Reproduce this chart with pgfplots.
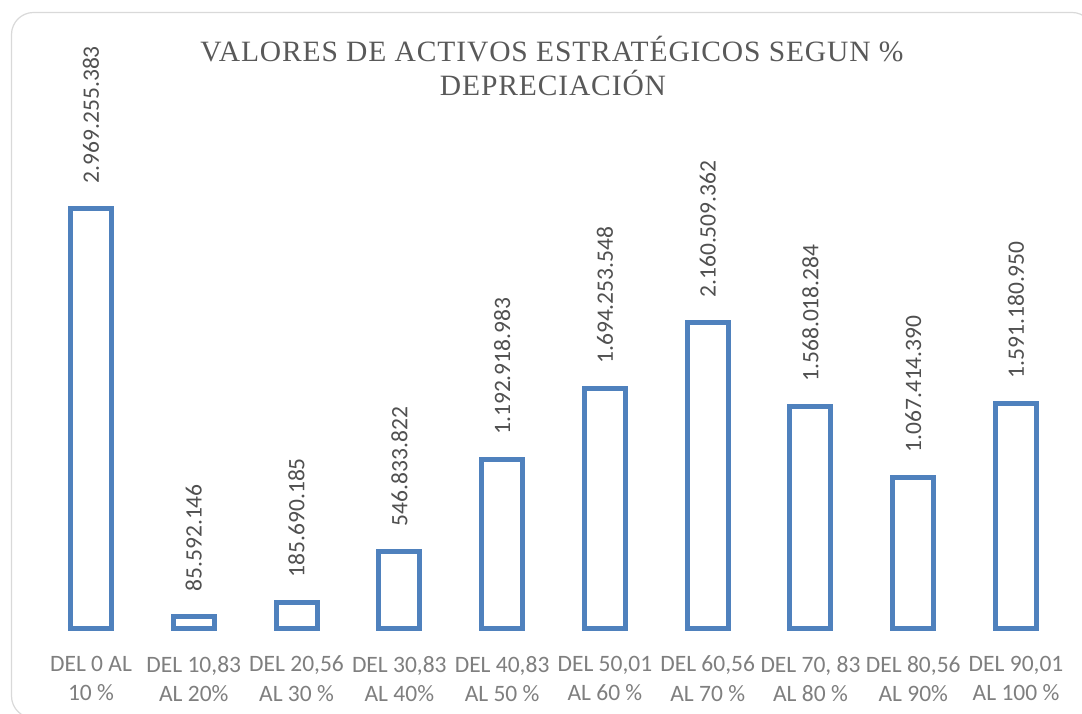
\documentclass[border=0pt]{standalone}
\usepackage{pgfplots}
\pgfplotsset{compat=1.18}
\usepackage{pgfplotstable}
\usepackage{fontspec}
\setmainfont{Carlito}
\newfontfamily\titlefont[LetterSpace=3]{Liberation Serif}
\definecolor{barblue}{HTML}{4F81BD}
\definecolor{titlegray}{HTML}{595959}
\definecolor{valgray}{HTML}{505050}
\definecolor{tickgray}{HTML}{7F7F7F}
\definecolor{framegray}{HTML}{D9D9D9}

\pgfplotstableread{
x y label
0 2969255383 2.969.255.383
1 85592146 85.592.146
2 185690185 185.690.185
3 546833822 546.833.822
4 1192918983 1.192.918.983
5 1694253548 1.694.253.548
6 2160509362 2.160.509.362
7 1568018284 1.568.018.284
8 1067414390 1.067.414.390
9 1591180950 1.591.180.950
}\datatable

\begin{document}
\begin{tikzpicture}[x=1pt,y=1pt]
\useasboundingbox (0,0) rectangle (1082,713);
\begin{scope}
\clip (0,0) rectangle (1082,713);
\draw[framegray, line width=1.2pt, rounded corners=22pt, fill=white] (11.5,700.5) rectangle (1094,-5);
\end{scope}
\node[font=\titlefont\fontsize{29.5}{34}\selectfont, text=titlegray, anchor=base] at (552,651) {VALORES DE ACTIVOS ESTRATÉGICOS SEGUN \%};
\node[font=\titlefont\fontsize{29.5}{34}\selectfont, text=titlegray, anchor=base] at (553,617) {DEPRECIACIÓN};
\begin{axis}[
  at={(39.6pt,84.5pt)}, anchor=south west,
  scale only axis, width=1027.8pt, height=588.5pt,
  xmin=-0.5, xmax=9.5, ymin=0, ymax=4.1561e9,
  hide y axis,
  axis x line*=bottom,
  x axis line style={draw=none},
  xtick style={draw=none},
  xtick=data,
  xticklabels={{DEL 0 AL\\10 \%},{DEL 10,83\\AL 20\%},{DEL 20,56\\AL 30 \%},{DEL 30,83\\AL 40\%},{DEL 40,83\\AL 50 \%},{DEL 50,01\\AL 60 \%},{DEL 60,56\\AL 70 \%},{DEL 70, 83\\AL 80 \%},{DEL 80,56\\AL 90\%},{DEL 90,01\\AL 100 \%}},
  xticklabel style={align=center, font=\fontsize{23.5}{29.3}\selectfont, text=tickgray, anchor=north, inner sep=0pt, yshift=-23.1pt},
  clip=false,
  ybar, bar width=41pt,
  point meta=explicit symbolic,
  nodes near coords,
  nodes near coords style={rotate=90, anchor=west, inner xsep=22.5pt, inner ysep=0pt, font=\fontsize{23.5}{28}\selectfont, text=valgray},
]
\addplot[draw=barblue, fill=white, line width=5pt, line join=miter] table[x=x, y=y, meta=label] {\datatable};
\end{axis}
\end{tikzpicture}
\end{document}
